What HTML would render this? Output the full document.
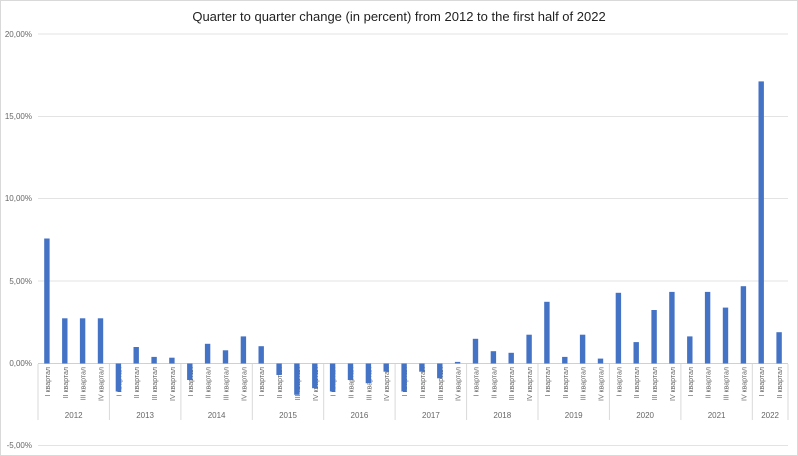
<!DOCTYPE html>
<html><head><meta charset="utf-8"><style>
body{margin:0;background:#fff}
svg{display:block;font-family:"Liberation Sans","DejaVu Sans",sans-serif}
</style></head><body>
<svg width="798" height="456" viewBox="0 0 798 456" xmlns="http://www.w3.org/2000/svg">
<rect x="0.5" y="0.5" width="797" height="455" fill="#fff" stroke="#d9d9d9"/>
<text x="399" y="21" text-anchor="middle" font-size="13" fill="#222">Quarter to quarter change (in percent) from 2012 to the first half of 2022</text>
<g stroke="#e3e3e3" stroke-width="1">
<line x1="38" x2="788" y1="34" y2="34"/>
<line x1="38" x2="788" y1="116.5" y2="116.5"/>
<line x1="38" x2="788" y1="198.5" y2="198.5"/>
<line x1="38" x2="788" y1="281" y2="281"/>
<line x1="38" x2="788" y1="445.5" y2="445.5"/>
</g>
<g font-size="8" fill="#666" text-anchor="end">
<text x="32" y="37">20,00%</text>
<text x="32" y="119">15,00%</text>
<text x="32" y="201">10,00%</text>
<text x="32" y="284">5,00%</text>
<text x="32" y="366">0,00%</text>
<text x="32" y="448">-5,00%</text>
</g>
<line x1="38" x2="788" y1="363.5" y2="363.5" stroke="#d0d0d0"/>
<g font-size="7" fill="#666" text-anchor="end">
<text transform="translate(50,367) rotate(-90)">I квартал</text>
<text transform="translate(68,367) rotate(-90)">II квартал</text>
<text transform="translate(85.6,367) rotate(-90)">III квартал</text>
<text transform="translate(103.5,367) rotate(-90)">IV квартал</text>
<text transform="translate(121.4,367) rotate(-90)">I квартал</text>
<text transform="translate(139.2,367) rotate(-90)">II квартал</text>
<text transform="translate(157.1,367) rotate(-90)">III квартал</text>
<text transform="translate(174.9,367) rotate(-90)">IV квартал</text>
<text transform="translate(192.8,367) rotate(-90)">I квартал</text>
<text transform="translate(210.6,367) rotate(-90)">II квартал</text>
<text transform="translate(228.5,367) rotate(-90)">III квартал</text>
<text transform="translate(246.4,367) rotate(-90)">IV квартал</text>
<text transform="translate(264.2,367) rotate(-90)">I квартал</text>
<text transform="translate(282.1,367) rotate(-90)">II квартал</text>
<text transform="translate(299.9,367) rotate(-90)">III квартал</text>
<text transform="translate(317.8,367) rotate(-90)">IV квартал</text>
<text transform="translate(335.6,367) rotate(-90)">I квартал</text>
<text transform="translate(353.5,367) rotate(-90)">II квартал</text>
<text transform="translate(371.4,367) rotate(-90)">III квартал</text>
<text transform="translate(389.2,367) rotate(-90)">IV квартал</text>
<text transform="translate(407.1,367) rotate(-90)">I квартал</text>
<text transform="translate(424.9,367) rotate(-90)">II квартал</text>
<text transform="translate(442.8,367) rotate(-90)">III квартал</text>
<text transform="translate(460.6,367) rotate(-90)">IV квартал</text>
<text transform="translate(478.5,367) rotate(-90)">I квартал</text>
<text transform="translate(496.4,367) rotate(-90)">II квартал</text>
<text transform="translate(514.2,367) rotate(-90)">III квартал</text>
<text transform="translate(532.1,367) rotate(-90)">IV квартал</text>
<text transform="translate(549.9,367) rotate(-90)">I квартал</text>
<text transform="translate(567.8,367) rotate(-90)">II квартал</text>
<text transform="translate(585.6,367) rotate(-90)">III квартал</text>
<text transform="translate(603.5,367) rotate(-90)">IV квартал</text>
<text transform="translate(621.4,367) rotate(-90)">I квартал</text>
<text transform="translate(639.2,367) rotate(-90)">II квартал</text>
<text transform="translate(657.1,367) rotate(-90)">III квартал</text>
<text transform="translate(674.9,367) rotate(-90)">IV квартал</text>
<text transform="translate(692.8,367) rotate(-90)">I квартал</text>
<text transform="translate(710.6,367) rotate(-90)">II квартал</text>
<text transform="translate(728.5,367) rotate(-90)">III квартал</text>
<text transform="translate(746.4,367) rotate(-90)">IV квартал</text>
<text transform="translate(764.2,367) rotate(-90)">I квартал</text>
<text transform="translate(782.1,367) rotate(-90)">II квартал</text>
</g>
<g fill="#4472c4">
<rect x="44.2" y="238.5" width="5.4" height="125"/>
<rect x="62.1" y="318.3" width="5.4" height="45.2"/>
<rect x="79.9" y="318.3" width="5.4" height="45.2"/>
<rect x="97.8" y="318.3" width="5.4" height="45.2"/>
<rect x="115.7" y="363.5" width="5.4" height="28"/>
<rect x="133.5" y="347" width="5.4" height="16.5"/>
<rect x="151.4" y="356.9" width="5.4" height="6.6"/>
<rect x="169.2" y="357.7" width="5.4" height="5.8"/>
<rect x="187.1" y="363.5" width="5.4" height="16.5"/>
<rect x="204.9" y="343.8" width="5.4" height="19.7"/>
<rect x="222.8" y="350.3" width="5.4" height="13.2"/>
<rect x="240.7" y="336.4" width="5.4" height="27.1"/>
<rect x="258.5" y="346.2" width="5.4" height="17.3"/>
<rect x="276.4" y="363.5" width="5.4" height="11.5"/>
<rect x="294.2" y="363.5" width="5.4" height="31.3"/>
<rect x="312.1" y="363.5" width="5.4" height="24.7"/>
<rect x="329.9" y="363.5" width="5.4" height="28"/>
<rect x="347.8" y="363.5" width="5.4" height="16.5"/>
<rect x="365.7" y="363.5" width="5.4" height="19.7"/>
<rect x="383.5" y="363.5" width="5.4" height="8.2"/>
<rect x="401.4" y="363.5" width="5.4" height="28"/>
<rect x="419.2" y="363.5" width="5.4" height="8.2"/>
<rect x="437.1" y="363.5" width="5.4" height="14.8"/>
<rect x="454.9" y="361.9" width="5.4" height="1.6"/>
<rect x="472.8" y="338.8" width="5.4" height="24.7"/>
<rect x="490.7" y="351.2" width="5.4" height="12.3"/>
<rect x="508.5" y="352.8" width="5.4" height="10.7"/>
<rect x="526.4" y="334.7" width="5.4" height="28.8"/>
<rect x="544.2" y="301.8" width="5.4" height="61.7"/>
<rect x="562.1" y="356.9" width="5.4" height="6.6"/>
<rect x="579.9" y="334.7" width="5.4" height="28.8"/>
<rect x="597.8" y="358.6" width="5.4" height="4.9"/>
<rect x="615.7" y="292.8" width="5.4" height="70.7"/>
<rect x="633.5" y="342.1" width="5.4" height="21.4"/>
<rect x="651.4" y="310" width="5.4" height="53.5"/>
<rect x="669.2" y="291.9" width="5.4" height="71.6"/>
<rect x="687.1" y="336.4" width="5.4" height="27.1"/>
<rect x="704.9" y="291.9" width="5.4" height="71.6"/>
<rect x="722.8" y="307.6" width="5.4" height="55.9"/>
<rect x="740.7" y="286.2" width="5.4" height="77.3"/>
<rect x="758.5" y="81.4" width="5.4" height="282.1"/>
<rect x="776.4" y="332.2" width="5.4" height="31.3"/>
</g>
<g stroke="#d9d9d9">
<line x1="38" x2="38" y1="364" y2="420"/>
<line x1="109.4" x2="109.4" y1="364" y2="420"/>
<line x1="180.9" x2="180.9" y1="364" y2="420"/>
<line x1="252.3" x2="252.3" y1="364" y2="420"/>
<line x1="323.7" x2="323.7" y1="364" y2="420"/>
<line x1="395.1" x2="395.1" y1="364" y2="420"/>
<line x1="466.6" x2="466.6" y1="364" y2="420"/>
<line x1="538" x2="538" y1="364" y2="420"/>
<line x1="609.4" x2="609.4" y1="364" y2="420"/>
<line x1="680.9" x2="680.9" y1="364" y2="420"/>
<line x1="752.3" x2="752.3" y1="364" y2="420"/>
<line x1="788" x2="788" y1="364" y2="420"/>
</g>
<g font-size="8" fill="#666" text-anchor="middle">
<text x="73.7" y="418">2012</text>
<text x="145.1" y="418">2013</text>
<text x="216.6" y="418">2014</text>
<text x="288" y="418">2015</text>
<text x="359.4" y="418">2016</text>
<text x="430.9" y="418">2017</text>
<text x="502.3" y="418">2018</text>
<text x="573.7" y="418">2019</text>
<text x="645.1" y="418">2020</text>
<text x="716.6" y="418">2021</text>
<text x="770.1" y="418">2022</text>
</g>
</svg>
</body></html>
